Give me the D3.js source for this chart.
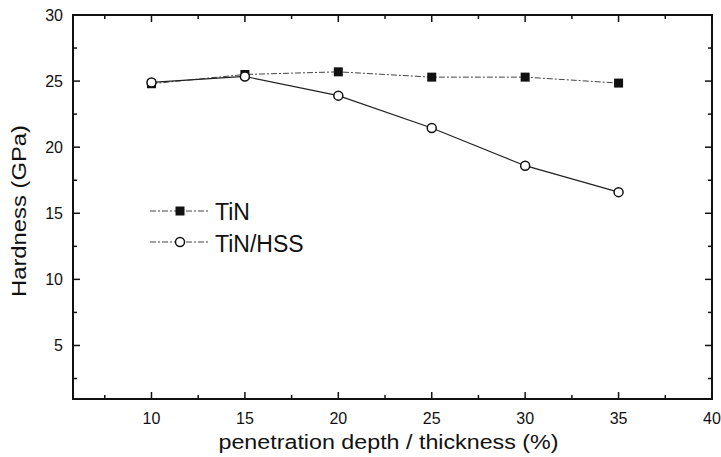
<!DOCTYPE html>
<html lang="en">
<head>
<meta charset="UTF-8">
<title>Hardness vs penetration depth</title>
<script src="https://d3js.org/d3.v7.min.js"></script>
<style>
  body { margin: 0; background: #fff; }
  svg text { font-family: "Liberation Sans", Arial, sans-serif; fill: #111; }
</style>
</head>
<body>
<div id="chart"></div>
<script>
// data
const depth = [10, 15, 20, 25, 30, 35];
const tinHardness = [24.8, 25.5, 25.7, 25.3, 25.3, 24.85];
const hssHardness = [24.9, 25.35, 23.9, 21.45, 18.6, 16.6];
const xTicks = [10, 15, 20, 25, 30, 35, 40];
const yTicks = [5, 10, 15, 20, 25, 30];

const width = 721, height = 457;
const margin = { top: 15, right: 9, bottom: 58, left: 73 };

const svg = d3.select("#chart").append("svg")
    .attr("width", width)
    .attr("height", height);

const x = d3.scaleLinear().domain([5.8, 40]).range([margin.left, width - margin.right]);
const y = d3.scaleLinear().domain([0.95, 30]).range([height - margin.bottom, margin.top]);

const x0 = margin.left, x1 = width - margin.right;
const y0 = height - margin.bottom, y1 = margin.top;

// minor ticks
const xMinor = d3.range(7.5, 40, 5);
const yMinor = d3.range(2.5, 30, 5);

// frame
svg.append("rect")
    .attr("x", x0).attr("y", y1)
    .attr("width", x1 - x0).attr("height", y0 - y1)
    .attr("fill", "none").attr("stroke", "#111").attr("stroke-width", 2);

// inward ticks on all four sides
const ticks = svg.append("g").attr("stroke", "#111").attr("stroke-width", 1.5);
xTicks.concat(xMinor).forEach(v => {
    const len = xTicks.includes(v) ? 7 : 4;
    ticks.append("line").attr("x1", x(v)).attr("x2", x(v)).attr("y1", y0).attr("y2", y0 - len);
    ticks.append("line").attr("x1", x(v)).attr("x2", x(v)).attr("y1", y1).attr("y2", y1 + len);
});
yTicks.concat(yMinor).forEach(v => {
    const len = yTicks.includes(v) ? 7 : 4;
    ticks.append("line").attr("x1", x0).attr("x2", x0 + len).attr("y1", y(v)).attr("y2", y(v));
    ticks.append("line").attr("x1", x1).attr("x2", x1 - len).attr("y1", y(v)).attr("y2", y(v));
});

// tick labels
svg.append("g").selectAll("text")
    .data(xTicks).enter().append("text")
    .attr("x", d => x(d)).attr("y", y0 + 25)
    .attr("text-anchor", "middle")
    .attr("font-size", 16)
    .text(d => d);

svg.append("g").selectAll("text")
    .data(yTicks).enter().append("text")
    .attr("x", x0 - 10).attr("y", d => y(d) + 6)
    .attr("text-anchor", "end")
    .attr("font-size", 16)
    .text(d => d);

// axis titles
svg.append("text")
    .attr("x", (x0 + x1) / 2 - 4).attr("y", 449)
    .attr("text-anchor", "middle")
    .attr("font-size", 20)
    .attr("textLength", 340)
    .attr("lengthAdjust", "spacingAndGlyphs")
    .text("penetration depth / thickness (%)");

svg.append("text")
    .attr("transform", "rotate(-90)")
    .attr("x", -211).attr("y", 26)
    .attr("text-anchor", "middle")
    .attr("font-size", 20)
    .attr("textLength", 172)
    .attr("lengthAdjust", "spacingAndGlyphs")
    .text("Hardness (GPa)");

// lines
const tinData = depth.map((d, i) => ({ x: d, y: tinHardness[i] }));
const hssData = depth.map((d, i) => ({ x: d, y: hssHardness[i] }));

const line = d3.line().x(d => x(d.x)).y(d => y(d.y));

svg.append("path")
    .datum(tinData)
    .attr("fill", "none")
    .attr("stroke", "#444")
    .attr("stroke-width", 1)
    .attr("stroke-dasharray", "6,2,2,2")
    .attr("d", line);

svg.append("path")
    .datum(hssData)
    .attr("fill", "none")
    .attr("stroke", "#222")
    .attr("stroke-width", 1.2)
    .attr("d", line);

// markers
svg.append("g").selectAll("rect")
    .data(tinData).enter().append("rect")
    .attr("x", d => x(d.x) - 4.5).attr("y", d => y(d.y) - 4.5)
    .attr("width", 9).attr("height", 9)
    .attr("fill", "#111");

svg.append("g").selectAll("circle")
    .data(hssData).enter().append("circle")
    .attr("cx", d => x(d.x)).attr("cy", d => y(d.y))
    .attr("r", 4.5)
    .attr("fill", "#fff").attr("stroke", "#111").attr("stroke-width", 1.5);

// legend
const legend = svg.append("g");
legend.append("line")
    .attr("x1", 150).attr("x2", 209).attr("y1", 211).attr("y2", 211)
    .attr("stroke", "#444").attr("stroke-width", 1).attr("stroke-dasharray", "6,2,2,2");
legend.append("rect")
    .attr("x", 175.5).attr("y", 206.5).attr("width", 9).attr("height", 9).attr("fill", "#111");
legend.append("text").attr("x", 215).attr("y", 220).attr("font-size", 23).text("TiN");

legend.append("line")
    .attr("x1", 150).attr("x2", 209).attr("y1", 242).attr("y2", 242)
    .attr("stroke", "#444").attr("stroke-width", 1).attr("stroke-dasharray", "6,2,2,2");
legend.append("circle")
    .attr("cx", 180).attr("cy", 242).attr("r", 4.5)
    .attr("fill", "#fff").attr("stroke", "#111").attr("stroke-width", 1.5);
legend.append("text").attr("x", 215).attr("y", 252).attr("font-size", 23).text("TiN/HSS");
</script>
</body>
</html>
